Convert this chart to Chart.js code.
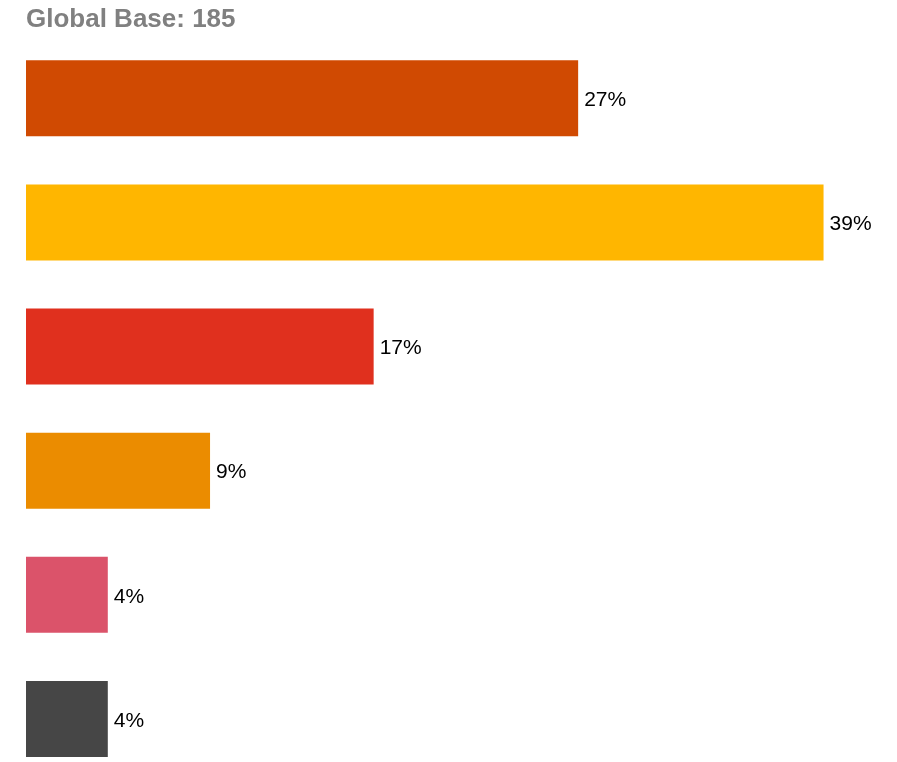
<!DOCTYPE html>
<html>
<head>
<meta charset="utf-8">
<script src="https://cdn.jsdelivr.net/npm/chart.js@4"></script>
<style>
  html, body { margin: 0; padding: 0; background: #fff; overflow: hidden; }
  #wrap { position: relative; width: 897px; height: 781px; }
</style>
</head>
<body>
<div id="wrap"><canvas id="baseChart"></canvas></div>
<script>
const categories = ['A', 'B', 'C', 'D', 'E', 'F'];
const shares = [27, 39, 17, 9, 4, 4];
const barColors = ['#D04A02', '#FFB600', '#E0301E', '#EB8C00', '#DB536A', '#464646'];
const baseCount = 185;

// writes the percentage just past the end of each bar
const valueLabels = {
    id: 'valueLabels',
    afterDatasetsDraw(chart) {
        const ctx = chart.ctx;
        const meta = chart.getDatasetMeta(0);
        ctx.save();
        ctx.font = '21px "Liberation Sans", Arial, sans-serif';
        ctx.fillStyle = '#000';
        ctx.textBaseline = 'middle';
        ctx.textAlign = 'left';
        meta.data.forEach((bar, i) => {
            ctx.fillText(shares[i] + '%', bar.x + 6, bar.y + 2);
        });
        ctx.restore();
    }
};

const ctx = document.getElementById('baseChart').getContext('2d');
new Chart(ctx, {
    type: 'bar',
    data: {
        labels: categories,
        datasets: [{
            data: shares,
            backgroundColor: barColors,
            borderWidth: 0,
            barPercentage: 0.612,
            categoryPercentage: 1
        }]
    },
    options: {
        indexAxis: 'y',
        responsive: true,
        maintainAspectRatio: false,
        animation: false,
        layout: { padding: { left: 26, right: 53, top: 0, bottom: 0 } },
        plugins: {
            legend: { display: false },
            tooltip: { enabled: false },
            title: {
                display: true,
                text: 'Global Base: ' + baseCount,
                align: 'start',
                color: '#808080',
                font: { family: '"Liberation Sans", Arial, sans-serif', size: 26, weight: 'bold' },
                padding: { top: 4, bottom: 1 }
            }
        },
        scales: {
            x: { display: false, min: 0, max: 40 },
            y: { display: false }
        }
    },
    plugins: [valueLabels]
});
</script>
</body>
</html>
